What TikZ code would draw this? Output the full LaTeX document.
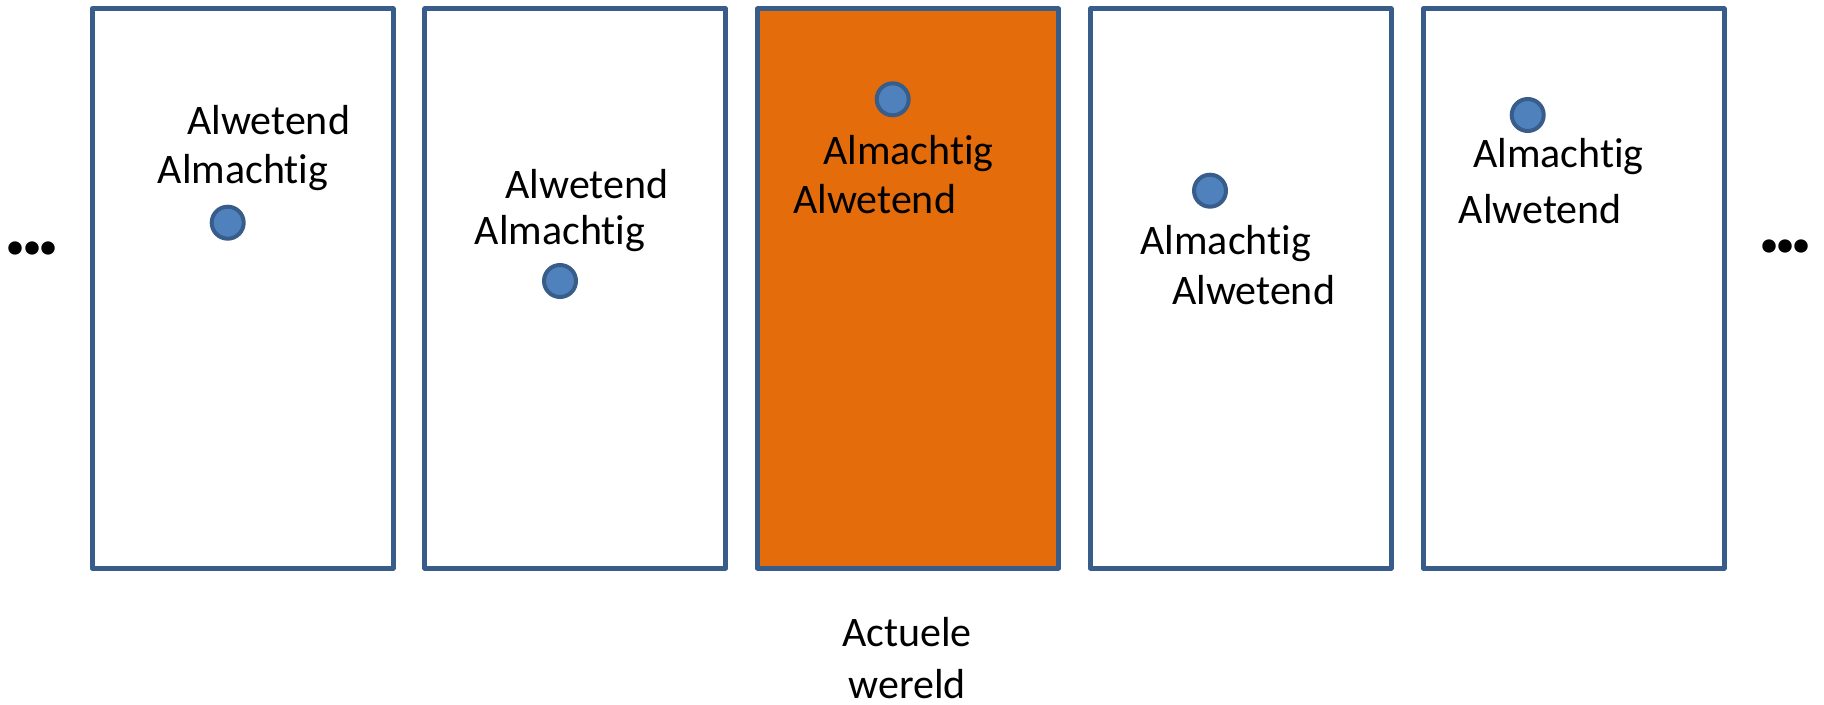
\documentclass[tikz,border=0pt]{standalone}
\usepackage{fontspec}
\setmainfont{Carlito}[RawFeature={-liga;-clig;-dlig}]
\definecolor{boxblue}{HTML}{385D8A}
\definecolor{dotfill}{HTML}{4F81BD}
\definecolor{worldorange}{HTML}{E46C0A}
\newcommand{\mydots}{.\kern-4pt.\kern-4pt.}
\begin{document}
\begin{tikzpicture}[x=0.5pt,y=-0.5pt,
  world/.style={draw=boxblue, line width=2.5pt, line join=round, fill=white,
    minimum width=150.5pt, minimum height=279.5pt, inner sep=0pt},
  actual/.style={world, fill=worldorange},
  god/.style={circle, draw=boxblue, fill=dotfill, line width=2pt, minimum size=16pt, inner sep=0pt},
  lbl/.style={anchor=base west, inner sep=0pt, font=\fontsize{21pt}{25pt}\selectfont},
  captxt/.style={anchor=base, inner sep=0pt, font=\fontsize{21pt}{25pt}\selectfont},
  moretxt/.style={anchor=base west, inner sep=0pt, font=\fontsize{45pt}{50pt}\selectfont\bfseries}
]
\useasboundingbox (0,0) rectangle (1824,705);
% worlds
\node[world]  (w1) at (242.5,288.5) {};
\node[world]  (w2) at (575.25,288.5) {};
\node[actual] (w3) at (908,288.5) {};
\node[world]  (w4) at (1240.75,288.5) {};
\node[world]  (w5) at (1573.5,288.5) {};
% world 1
\node[lbl] (w1a) at (186.7,134.3) {Alwetend};
\node[lbl] (w1b) at (157.3,184) {Almachtig};
\node[god] (g1) at (227.7,222.7) {};
% world 2
\node[lbl] (w2a) at (505,198.3) {Alwetend};
\node[lbl] (w2b) at (474.3,244.3) {Almachtig};
\node[god] (g2) at (560,281) {};
% world 3
\node[god] (g3) at (892.7,99.3) {};
\node[lbl] (w3a) at (822.7,165) {Almachtig};
\node[lbl] (w3b) at (792.7,213.3) {Alwetend};
% world 4
\node[god] (g4) at (1210,190.7) {};
\node[lbl] (w4a) at (1140,254.3) {Almachtig};
\node[lbl] (w4b) at (1171.7,304.3) {Alwetend};
% world 5
\node[god] (g5) at (1527.7,115) {};
\node[lbl] (w5a) at (1472.7,167.7) {Almachtig};
\node[lbl] (w5b) at (1458.3,224) {Alwetend};
% caption
\node[captxt] (c1) at (907,646.7) {Actuele};
\node[captxt] (c2) at (907,698) {wereld};
% ellipses
\node[moretxt] (l) at (3.5,255) {\mydots};
\node[moretxt] (r) at (1757,252.3) {\mydots};
\end{tikzpicture}
\end{document}
